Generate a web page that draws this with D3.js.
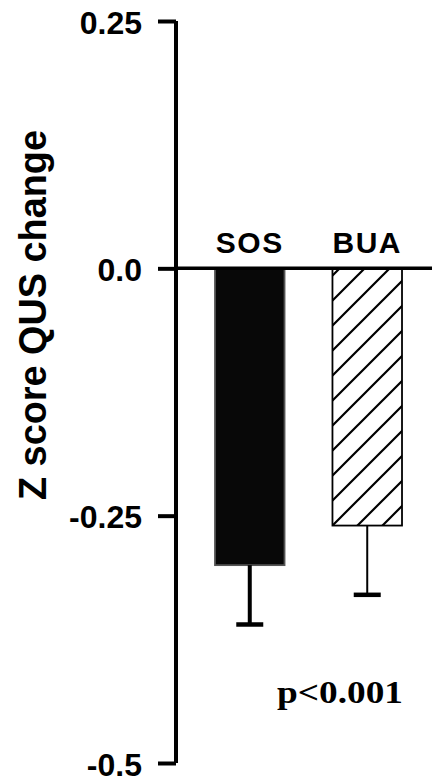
<!DOCTYPE html>
<html>
<head>
<meta charset="utf-8">
<script src="https://cdn.jsdelivr.net/npm/d3@7"></script>
<style>
  html, body { margin: 0; padding: 0; background: #fff; }
  svg { display: block; }
</style>
</head>
<body>
<svg id="chart" width="432" height="782"></svg>
<script>
// Data
const categories = ["SOS", "BUA"];
const meanChange = [-0.30, -0.26];
const errorLow = [-0.36, -0.33];
const tickValues = [0.25, 0, -0.25, -0.5];
const tickLabels = ["0.25", "0.0", "-0.25", "-0.5"];
const yTitle = "Z score QUS change";
const pLabel = "p<0.001";

const svg = d3.select("#chart");
const W = 432, H = 782;
const axisX = 176;

const y = d3.scaleLinear().domain([-0.5, 0.25]).range([763, 21]);
const x = d3.scaleBand().domain(categories)
  .range([191.5, 425.5]).paddingInner(0.408).paddingOuter(0.2);

// Hatch pattern for the BUA bar
const defs = svg.append("defs");
const pat = defs.append("pattern")
  .attr("id", "hatch").attr("patternUnits", "userSpaceOnUse")
  .attr("width", 25).attr("height", 25)
  .attr("patternTransform", "translate(8,0)");
pat.append("rect").attr("width", 25).attr("height", 25).attr("fill", "#fff");
pat.append("path").attr("d", "M-5,5 L5,-5 M0,25 L25,0 M20,30 L30,20")
  .attr("stroke", "#000").attr("stroke-width", 2.2);

// Y axis
const yAxis = d3.axisLeft(y)
  .tickValues(tickValues)
  .tickFormat((d, i) => tickLabels[i])
  .tickSize(18)
  .tickPadding(16);

const gAxis = svg.append("g")
  .attr("transform", `translate(${axisX},0)`)
  .call(yAxis);
gAxis.select(".domain")
  .attr("d", `M0,${y(0.25)}V${y(-0.5)}`)
  .attr("stroke", "#000").attr("stroke-width", 4);
gAxis.selectAll(".tick line").attr("stroke", "#000").attr("stroke-width", 4);
gAxis.selectAll(".tick text")
  .attr("fill", "#000")
  .attr("font-family", "'Liberation Sans', Arial, Helvetica, sans-serif")
  .attr("font-weight", "bold")
  .attr("font-size", 32)
  .attr("dy", "0.38em");

// Bars
const fills = ["#080808", "url(#hatch)"];
const strokes = ["#555", "#000"];
svg.append("g").selectAll("rect")
  .data(categories)
  .join("rect")
  .attr("x", d => x(d))
  .attr("y", y(0))
  .attr("width", x.bandwidth())
  .attr("height", (d, i) => y(meanChange[i]) - y(0))
  .attr("fill", (d, i) => fills[i])
  .attr("stroke", (d, i) => strokes[i])
  .attr("stroke-width", 1.8);

// Error bars (downward)
const stemWidths = [4, 2];
const eg = svg.append("g");
categories.forEach((c, i) => {
  const cx = x(c) + x.bandwidth() / 2;
  eg.append("line")
    .attr("x1", cx).attr("x2", cx)
    .attr("y1", y(meanChange[i])).attr("y2", y(errorLow[i]))
    .attr("stroke", "#000").attr("stroke-width", stemWidths[i]);
  eg.append("line")
    .attr("x1", cx - 13.5).attr("x2", cx + 13.5)
    .attr("y1", y(errorLow[i])).attr("y2", y(errorLow[i]))
    .attr("stroke", "#000").attr("stroke-width", 4.5);
});

// Zero line
svg.append("line")
  .attr("x1", axisX).attr("x2", W)
  .attr("y1", y(0)).attr("y2", y(0))
  .attr("stroke", "#000").attr("stroke-width", 3.5);

// Category labels above the zero line
svg.append("g").selectAll("text")
  .data(categories)
  .join("text")
  .attr("x", d => x(d) + x.bandwidth() / 2)
  .attr("y", 253)
  .attr("text-anchor", "middle")
  .attr("font-family", "'Liberation Sans', Arial, Helvetica, sans-serif")
  .attr("font-weight", "bold")
  .attr("font-size", 30)
  .attr("letter-spacing", 1.5)
  .text(d => d);

// Y axis title
svg.append("text")
  .attr("transform", `translate(46,315) rotate(-90)`)
  .attr("text-anchor", "middle")
  .attr("font-family", "'Liberation Sans', Arial, Helvetica, sans-serif")
  .attr("font-weight", "bold")
  .attr("font-size", 39)
  .attr("textLength", 370)
  .attr("lengthAdjust", "spacingAndGlyphs")
  .text(yTitle);

// Significance label
svg.append("text")
  .attr("x", 277)
  .attr("y", 703)
  .attr("font-family", "'Liberation Serif', 'Times New Roman', serif")
  .attr("font-weight", "bold")
  .attr("font-size", 31)
  .attr("textLength", 126)
  .attr("lengthAdjust", "spacingAndGlyphs")
  .text(pLabel);
</script>
</body>
</html>
